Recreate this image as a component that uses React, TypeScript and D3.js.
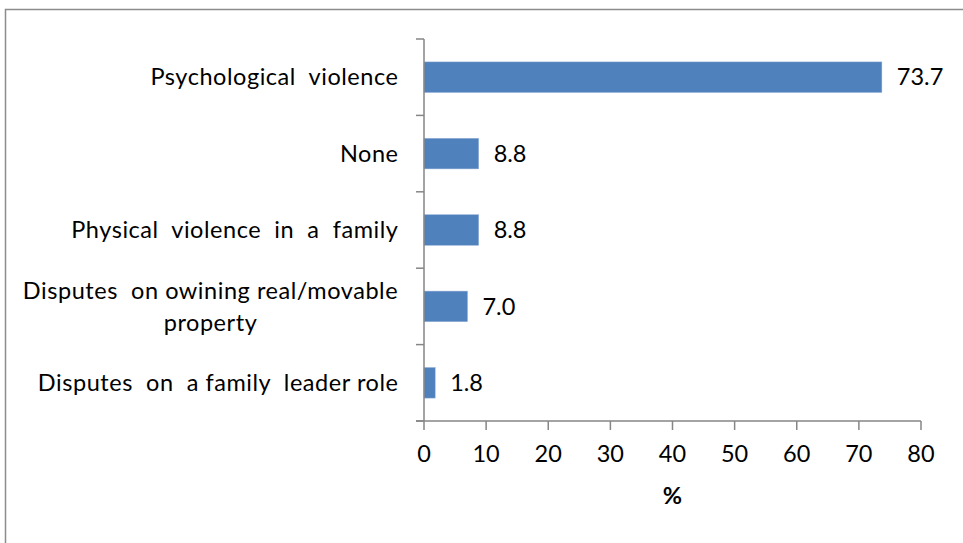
import React from "react";
import * as d3 from "d3";

const categories: string[][] = [
  ["Psychological  violence"],
  ["None"],
  ["Physical  violence  in  a  family"],
  ["Disputes  on owining real/movable", "property"],
  ["Disputes  on  a family  leader role"],
];
const values: number[] = [73.7, 8.8, 8.8, 7.0, 1.8];
const xTicks: number[] = [0, 10, 20, 30, 40, 50, 60, 70, 80];
const xTitle = "%";

const W = 963;
const H = 543;
const left = 424;
const right = 921;
const top = 39;
const bottom = 421;
const font = "Lato, 'Open Sans', sans-serif";
const fs = 23.5;
const axisColor = "#868686";

export default function App() {
  const x = d3.scaleLinear().domain([0, 80]).range([left, right]);
  const idx = categories.map((_, i) => String(i));
  const y = d3.scaleBand().domain(idx).range([top, bottom]).paddingInner(0.6).paddingOuter(0.3);
  const band = (bottom - top) / categories.length;
  const boundaries = d3.range(categories.length + 1).map((i) => top + i * band);

  return (
    <svg width={W} height={H} style={{ position: "absolute", left: 0, top: 0, background: "#fff" }}>
      <rect x={5.5} y={9.5} width={1000} height={1000} fill="#fff" stroke="#8c8c8c" strokeWidth={1.5} />
      {categories.map((lab, i) => {
        const cy = (y(String(i)) as number) + y.bandwidth() / 2;
        const v = values[i];
        const lines = lab;
        const lh = 32;
        const cx = lines.length > 1 ? 210.5 : 398;
        return (
          <g key={i}>
            <rect
              x={x(0)}
              y={y(String(i))}
              width={x(v) - x(0)}
              height={y.bandwidth()}
              fill="#4F81BD"
              stroke="#8FAED6"
              strokeWidth={0.5}
            />
            <text x={x(v) + 15} y={cy} dy="0.35em" fontFamily={font} fontSize={fs} fill="#000">
              {v.toFixed(1)}
            </text>
            {lines.map((t, j) => (
              <text
                key={j}
                x={cx + (lines.length > 1 ? 0 : 0.5)}
                y={cy + (j - (lines.length - 1) / 2) * lh}
                dy="0.35em"
                textAnchor={lines.length > 1 ? "middle" : "end"}
                fontFamily={font}
                fontSize={fs}
                letterSpacing={0.55}
                fill="#000"
                style={{ whiteSpace: "pre" }}
              >
                {t}
              </text>
            ))}
          </g>
        );
      })}
      <line x1={x(0)} x2={x(0)} y1={top} y2={bottom} stroke={axisColor} strokeWidth={1.5} />
      {boundaries.map((b, i) => (
        <line key={i} x1={x(0) - 8} x2={x(0)} y1={b} y2={b} stroke={axisColor} strokeWidth={1.5} />
      ))}
      <line x1={x(0) - 8} x2={x(80)} y1={bottom} y2={bottom} stroke={axisColor} strokeWidth={1.5} />
      {xTicks.map((t) => (
        <g key={t}>
          <line x1={x(t)} x2={x(t)} y1={bottom} y2={bottom + 9} stroke={axisColor} strokeWidth={1.5} />
          <text x={x(t)} y={bottom + 33} dy="0.35em" textAnchor="middle" fontFamily={font} fontSize={fs} fill="#000">
            {t}
          </text>
        </g>
      ))}
      <text x={(x(0) + x(80)) / 2} y={496} dy="0.35em" textAnchor="middle" fontFamily={font} fontSize={fs} fontWeight="bold" fill="#000">
        {xTitle}
      </text>
    </svg>
  );
}
